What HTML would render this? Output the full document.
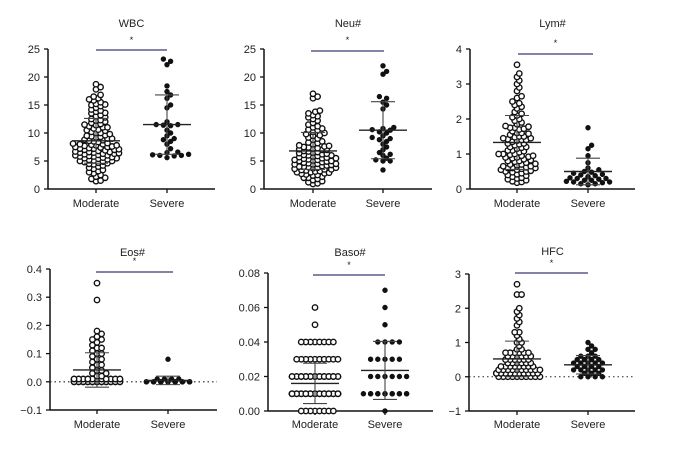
<!DOCTYPE html>
<html><head><meta charset="utf-8">
<style>
body{margin:0;background:#fff;}
svg{display:block;font-family:"Liberation Sans",Arial,sans-serif;}
</style></head>
<body>
<svg id="chart" width="678" height="450" viewBox="0 0 678 450" xmlns="http://www.w3.org/2000/svg"></svg>
<script>
const groups = ["Moderate","Severe"];
const titles = ["WBC","Neu#","Lym#","Eos#","Baso#","HFC"];
const yTicks = [[0,5,10,15,20,25],[0,5,10,15,20,25],[0,1,2,3,4],[-0.1,0,0.1,0.2,0.3,0.4],[0,0.02,0.04,0.06,0.08],[-1,0,1,2,3]];
const yTickLabels = [["0","5","10","15","20","25"],["0","5","10","15","20","25"],["0","1","2","3","4"],["\u22120.1","0.0","0.1","0.2","0.3","0.4"],["0.00","0.02","0.04","0.06","0.08"],["\u22121","0","1","2","3"]];
const wbcModerate = [18.7,18.2,17.8,16.8,16.5,16.2,16,15.8,15.5,15.2,15,14.8,14.5,14.2,14,13.8,13.5,13.2,13,12.8,12.5,12.3,12,11.8,11.6,11.4,11.2,11,11,10.8,10.6,10.4,10.2,10,10,9.8,9.6,9.5,9.3,9.2,9,9,8.8,8.7,8.5,8.4,8.2,8.1,8,8,7.9,7.8,7.7,7.6,7.5,7.5,7.4,7.3,7.2,7.1,7,7,6.9,6.8,6.7,6.6,6.5,6.5,6.4,6.3,6.2,6.1,6,6,5.9,5.8,5.7,5.6,5.5,5.5,5.4,5.3,5.2,5.1,5,5,4.9,4.8,4.7,4.6,4.5,4.4,4.2,4,3.8,3.6,3.4,3.2,3,2.8,2.5,2.2,2,1.8,1.5,1.4,11.5,10.5,9.4,8.6,7.8,7.2,6.6,6.3,5.8,12.2,13.6,15.1];
const wbcSevere = [23.2,22.8,22.2,18.4,17.4,16.8,16.2,15,14.5,12,11.5,11.5,11.4,11.3,10.5,10,9.5,9,8.8,8.5,8,7.2,6.6,6.2,6.1,6,6,5.9,5.6,6.5];
const neuModerate = [17,16.5,16.2,14,13.8,13.5,13.2,13,12.8,12.2,11.8,11.5,11,10.8,10.5,10.2,10,9.8,9.5,9.2,9,8.8,8.5,8.2,8,7.8,7.7,7.6,7.5,7.4,7.3,7.2,7,7,6.8,6.7,6.6,6.5,6.4,6.3,6.2,6,6,5.9,5.8,5.7,5.6,5.5,5.4,5.3,5.2,5.2,5.1,5,5,4.9,4.8,4.7,4.6,4.5,4.5,4.4,4.3,4.2,4.1,4,4,3.9,3.8,3.7,3.6,3.5,3.5,3.4,3.3,3.2,3.1,3,3,2.9,2.8,2.7,2.6,2.5,2.4,2.2,2,2,1.8,1.6,1.4,1.2,1,0.9,9.6,8.3,7.1,6.1,5.5,4.4,3.8,12.5,11.2,10.6];
const neuSevere = [22,20.5,21,16.5,16.2,15.5,15,14.3,11,10.8,10.6,10.5,10.2,10,9.5,9.2,9,8.8,8.5,8,7.5,7,6.5,6.2,6,5.5,5.2,5,5,3.4];
const lymModerate = [3.55,3.3,3.2,3.1,3,2.9,2.8,2.65,2.6,2.5,2.45,2.4,2.35,2.3,2.2,2.15,2.1,2.05,2,1.95,1.9,1.85,1.8,1.78,1.75,1.72,1.7,1.65,1.6,1.58,1.55,1.5,1.48,1.45,1.42,1.4,1.38,1.35,1.3,1.28,1.25,1.2,1.18,1.15,1.1,1.08,1.05,1,1,0.98,0.95,0.92,0.9,0.88,0.85,0.82,0.8,0.78,0.75,0.72,0.7,0.68,0.65,0.62,0.6,0.6,0.58,0.55,0.52,0.5,0.48,0.45,0.42,0.4,0.38,0.35,0.32,0.3,0.28,0.25,0.22,0.2,0.18,1.6,1.5,1.4,1.3,1.2,1.1,1.0,0.9,0.8,0.7,0.6,1.75,1.45,0.95,0.65,0.55,0.5];
const lymSevere = [1.75,1.25,1.15,0.95,0.75,0.6,0.55,0.5,0.48,0.45,0.42,0.4,0.38,0.35,0.32,0.3,0.3,0.28,0.25,0.22,0.2,0.2,0.18,0.15,0.15,0.12,0.35,0.25];
const eosModerate = [0.35,0.29,0.18,0.17,0.16,0.15,0.14,0.13,0.12,0.11,0.1,0.09,0.08,0.07,0.06,0.05,0.04,0.03,0.02,0.15,0.12,0.1,0.08,0.06,0.04,0.03,0.02,0.01,0.01,0.01,0.01,0.01,0.01,0.01,0.01,0.01,0.01,0.01,0.01,0.01,0.01,0.01,0.01,0.01,0.01,0.01,0.01,0.01,0.01,0.01,0.01,0,0,0,0,0,0,0,0,0,0,0,0,0,0,0,0,0,0,0,0,0,0,0,0,0];
const eosSevere = [0.08,0.01,0.01,0.01,0.01,0,0,0,0,0,0,0,0,0,0,0,0,0,0,0,0,0,0,0,0];
const basoModerate = [0.06,0.05,0.04,0.04,0.04,0.04,0.04,0.04,0.04,0.04,0.03,0.03,0.03,0.03,0.03,0.03,0.03,0.03,0.03,0.03,0.02,0.02,0.02,0.02,0.02,0.02,0.02,0.02,0.02,0.02,0.02,0.02,0.02,0.02,0.02,0.02,0.02,0.02,0.02,0.02,0.02,0.02,0.02,0.02,0.02,0.02,0.02,0.02,0.02,0.02,0.01,0.01,0.01,0.01,0.01,0.01,0.01,0.01,0.01,0.01,0.01,0.01,0.01,0.01,0.01,0.01,0.01,0.01,0.01,0.01,0.01,0.01,0.01,0.01,0.01,0.01,0.01,0.01,0.01,0.01,0.01,0.01,0.01,0.01,0.01,0.01,0.01,0.01,0.01,0.01,0.01,0.01,0.01,0.01,0.01,0.01,0.01,0.01,0.01,0.01,0,0,0,0,0,0,0,0];
const basoSevere = [0.07,0.06,0.05,0.04,0.04,0.04,0.04,0.03,0.03,0.03,0.03,0.03,0.02,0.02,0.02,0.02,0.02,0.02,0.01,0.01,0.01,0.01,0.01,0.01,0.01,0.01,0.01,0.01,0.01,0.01,0.01,0];
const hfcModerate = [2.7,2.4,2.4,2.0,1.9,1.8,1.7,1.6,1.5,1.3,1.3,1.2,1.1,1.0,1.0,0.9,0.8,0.8,0.7,0.7,0.7,0.7,0.7,0.7,0.6,0.6,0.6,0.6,0.6,0.6,0.5,0.5,0.5,0.5,0.5,0.5,0.4,0.4,0.4,0.4,0.4,0.4,0.3,0.3,0.3,0.3,0.3,0.3,0.3,0.3,0.2,0.2,0.2,0.2,0.2,0.2,0.2,0.2,0.2,0.2,0.1,0.1,0.1,0.1,0.1,0.1,0.1,0.1,0.1,0.1,0.1,0.1,0.1,0.1,0.1,0.1,0.1,0.1,0.1,0.1,0.1,0.1,0.1,0.1,0.1,0.1,0.1,0.1,0.1,0.1,0,0,0,0,0,0,0,0,0,0];
const hfcSevere = [1.0,0.9,0.8,0.8,0.7,0.6,0.6,0.6,0.5,0.5,0.5,0.5,0.4,0.4,0.4,0.4,0.4,0.3,0.3,0.3,0.3,0.2,0.2,0.2,0.2,0.2,0.1,0.1,0.1,0,0,0,0];
const meanValues = [[8.6,11.5],[6.8,10.5],[1.33,0.5],[0.042,0.005],[0.016,0.0235],[0.52,0.35]];
const sdValues = [[4.0,5.3],[3.3,5.1],[0.77,0.38],[0.061,0.015],[0.0117,0.0168],[0.52,0.27]];
const seriesData = [[wbcModerate,wbcSevere],[neuModerate,neuSevere],[lymModerate,lymSevere],[eosModerate,eosSevere],[basoModerate,basoSevere],[hfcModerate,hfcSevere]];

const panels = [
 {ax:48, right:215, top:49, bottom:189, xs:[96,167], bar:[96,167,50], titleY:23, starY:43, labY:207},
 {ax:264, right:432, top:49, bottom:189, xs:[313,383], bar:[311,384,51], titleY:23, starY:43, labY:207},
 {ax:470, right:635, top:49, bottom:189, xs:[517,588], bar:[518,593,54], titleY:23, starY:46, labY:207},
 {ax:50, right:217, top:269, bottom:410, xs:[97,168], bar:[96,173,272], titleY:252, starY:264, labY:428, dotted:true},
 {ax:268, right:433, top:273, bottom:411, xs:[315,385], bar:[313,385,275], titleY:252, starY:268, labY:428},
 {ax:469, right:635, top:274, bottom:411, xs:[517,588], bar:[515,588,273], titleY:251, starY:266, labY:428, dotted:true}
];
const NS="http://www.w3.org/2000/svg";
const svg=document.getElementById('chart');
function mk(tag,attrs,parent){const e=document.createElementNS(NS,tag);for(const k in attrs)e.setAttribute(k,attrs[k]);(parent||svg).appendChild(e);return e;}

panels.forEach((p,i)=>{
  const g=mk('g',{});
  
  
  const t=yTicks[i], ymin=t[0], ymax=t[t.length-1];
  const y=v=>p.bottom-(v-ymin)/(ymax-ymin)*(p.bottom-p.top);
  const tt=mk('text',{x:(p.xs[0]+p.xs[1])/2,y:p.titleY+4,'font-size':11,'text-anchor':'middle',fill:'#222'},g);
  tt.textContent=titles[i];
  
  
  const ya=mk('line',{x1:p.ax,x2:p.ax,y1:p.top,y2:p.bottom,stroke:'#111','stroke-width':1.5},g);
  
  
  const xa=mk('line',{x1:p.ax,x2:p.right,y1:p.bottom,y2:p.bottom,stroke:'#111','stroke-width':1.5},g);
  
  
  t.forEach((v,j)=>{
    mk('line',{x1:p.ax-4,x2:p.ax,y1:y(v),y2:y(v),stroke:'#111','stroke-width':1.3},g);
    const tl=mk('text',{x:p.ax-8,y:y(v)+4,'font-size':11,'text-anchor':'end',fill:'#222'},g);
    tl.textContent=yTickLabels[i][j];
    
    
  });
  groups.forEach((gn,k)=>{
    mk('line',{x1:p.xs[k],x2:p.xs[k],y1:p.bottom,y2:p.bottom+4,stroke:'#111','stroke-width':1.3},g);
    const xl=mk('text',{x:p.xs[k],y:p.labY,'font-size':11,'text-anchor':'middle',fill:'#222'},g);
    xl.textContent=gn;
    
    
  });
  if(p.dotted){
    const dl=mk('line',{x1:p.ax,x2:p.right,y1:y(0),y2:y(0),stroke:'#222','stroke-width':1.1,'stroke-dasharray':'1.5,3'},g);
    
    
  }
  const sb=mk('line',{x1:p.bar[0],x2:p.bar[1],y1:p.bar[2],y2:p.bar[2],stroke:'#5a5a8a','stroke-width':1.6},g);
  
  
  const st=mk('text',{x:(p.bar[0]+p.bar[1])/2,y:p.starY,'font-size':9,'text-anchor':'middle',fill:'#222'},g);
  st.textContent='*';
  
  
  groups.forEach((gn,k)=>{
    const r = k===0?2.7:2.4;
    const step = k===0? r*0.85 : r*1.5;
    const thr = k===0? r*1.45 : r*1.9;
    const maxHalf = 24;
    const placed=[];
    const vals=seriesData[i][k].slice().sort((a,b)=>a-b);
    vals.forEach(v=>{
      const py=y(v);
      let best=null,bestC=1e9;
      const K=Math.floor(maxHalf/step);
      for(let m=0;m<=2*K;m++){
        const off = m===0?0:(m%2?1:-1)*Math.ceil(m/2)*step;
        const px=p.xs[k]+off;
        let c=0;
        for(const q of placed){const dx=q[0]-px,dy=q[1]-py;if(dx*dx+dy*dy<thr*thr)c++;}
        if(c<bestC){bestC=c;best=px;if(c===0)break;}
      }
      placed.push([best,py]);
      const c=mk('circle',{cx:best.toFixed(2),cy:py.toFixed(2),r:r,fill:k===0?'#fff':'#111',stroke:'#111','stroke-width':k===0?1.4:0.6},g);
      
      
    });
    const mv=meanValues[i][k], sd=sdValues[i][k];
    const cx=p.xs[k];
    const ml=mk('line',{x1:cx-24,x2:cx+24,y1:y(mv),y2:y(mv),stroke:'#222','stroke-width':1.4},g);
    
    
    const vl=mk('line',{x1:cx,x2:cx,y1:y(mv+sd),y2:y(mv-sd),stroke:'#444','stroke-width':1.1},g);
    
    
    [mv+sd,mv-sd].forEach(v=>{
      const cap=mk('line',{x1:cx-12,x2:cx+12,y1:y(v),y2:y(v),stroke:'#444','stroke-width':1.1},g);
      
      
    });
  });
});
</script>
</body></html>
